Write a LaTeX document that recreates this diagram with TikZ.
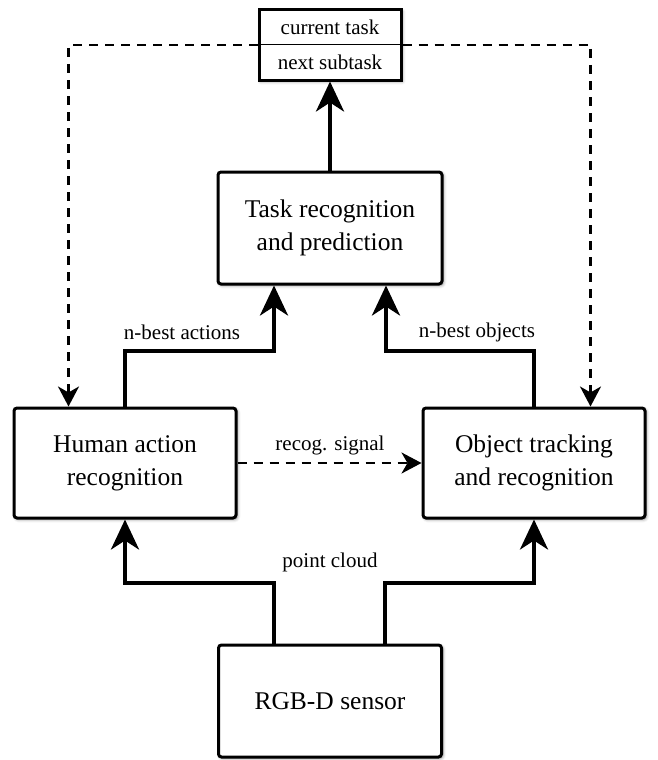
\documentclass[tikz,border=0pt]{standalone}
\usepackage{fontspec}
\setmainfont{Liberation Serif}
\usetikzlibrary{arrows.meta,shadows.blur}
\tikzset{
  block/.style={draw,line width=3pt,rounded corners=3pt,fill=white,align=center,
    font=\fontsize{25.5}{33}\selectfont,inner sep=0pt,
    blur shadow={shadow xshift=1.5pt,shadow yshift=-1.5pt,shadow blur radius=3pt,shadow opacity=45}},
  flow/.style={line width=4pt,-{Stealth[length=30pt,width=28pt,inset=9pt]}},
  feedback/.style={line width=2.5pt,dash pattern=on 9pt off 7pt,-{Stealth[length=20pt,width=21pt,inset=6pt]}},
  lab/.style={font=\fontsize{21}{25}\selectfont,inner sep=0pt},
  cell/.style={minimum width=142pt,minimum height=35pt,inner sep=0pt,font=\fontsize{21}{25}\selectfont}
}
\begin{document}
\begin{tikzpicture}[x=1pt,y=-1pt]
  \useasboundingbox (0,0) rectangle (657,760);
  % blocks
  \node[block,minimum width=224pt,minimum height=112pt] (task) at (330,228) {Task recognition\\and prediction};
  \node[block,minimum width=222pt,minimum height=110pt] (human) at (125,463) {Human action\\recognition};
  \node[block,minimum width=222pt,minimum height=110pt] (object) at (534,463) {Object tracking\\and recognition};
  \node[block,minimum width=223pt,minimum height=112pt] (sensor) at (330,701) {RGB-D sensor};
  % output tag
  \node[block,sharp corners,minimum width=142pt,minimum height=70pt] (tag) at (330,45) {};
  \node[cell,anchor=south] (cur) at (tag.center) {current task};
  \node[cell,anchor=north] (next) at (tag.center) {next subtask};
  \draw[line width=1pt] (tag.west) -- (tag.east);
  % joints
  \coordinate (ja) at (274,351);
  \coordinate (jo) at (386,351);
  \coordinate (pl) at (274,583);
  \coordinate (pr) at (385,583);
  \coordinate (fl) at ([xshift=56pt]human.north west);
  \coordinate (fr) at ([xshift=-56pt]object.north east);
  % data flow
  \draw[flow] (task.north) -- (tag.south);
  \draw[flow] (human.north) |- (ja) -- (ja |- task.south);
  \draw[flow] (object.north) |- (jo) -- (jo |- task.south);
  \draw[flow] (pl |- sensor.north) -- (pl) -| (human.south);
  \draw[flow] (pr |- sensor.north) -- (pr) -| (object.south);
  \draw[feedback] (human.east) -- (object.west);
  \draw[feedback] (tag.west) -| (fl);
  \draw[feedback] (tag.east) -| (fr);
  % labels
  \node[lab] (nba) at (182,332) {n-best actions};
  \node[lab] (nbo) at (477,332) {n-best objects};
  \node[lab] (sig) at (330,445) {recog. signal};
  \node[lab] (pcl) at (330,562) {point cloud};
\end{tikzpicture}
\end{document}
